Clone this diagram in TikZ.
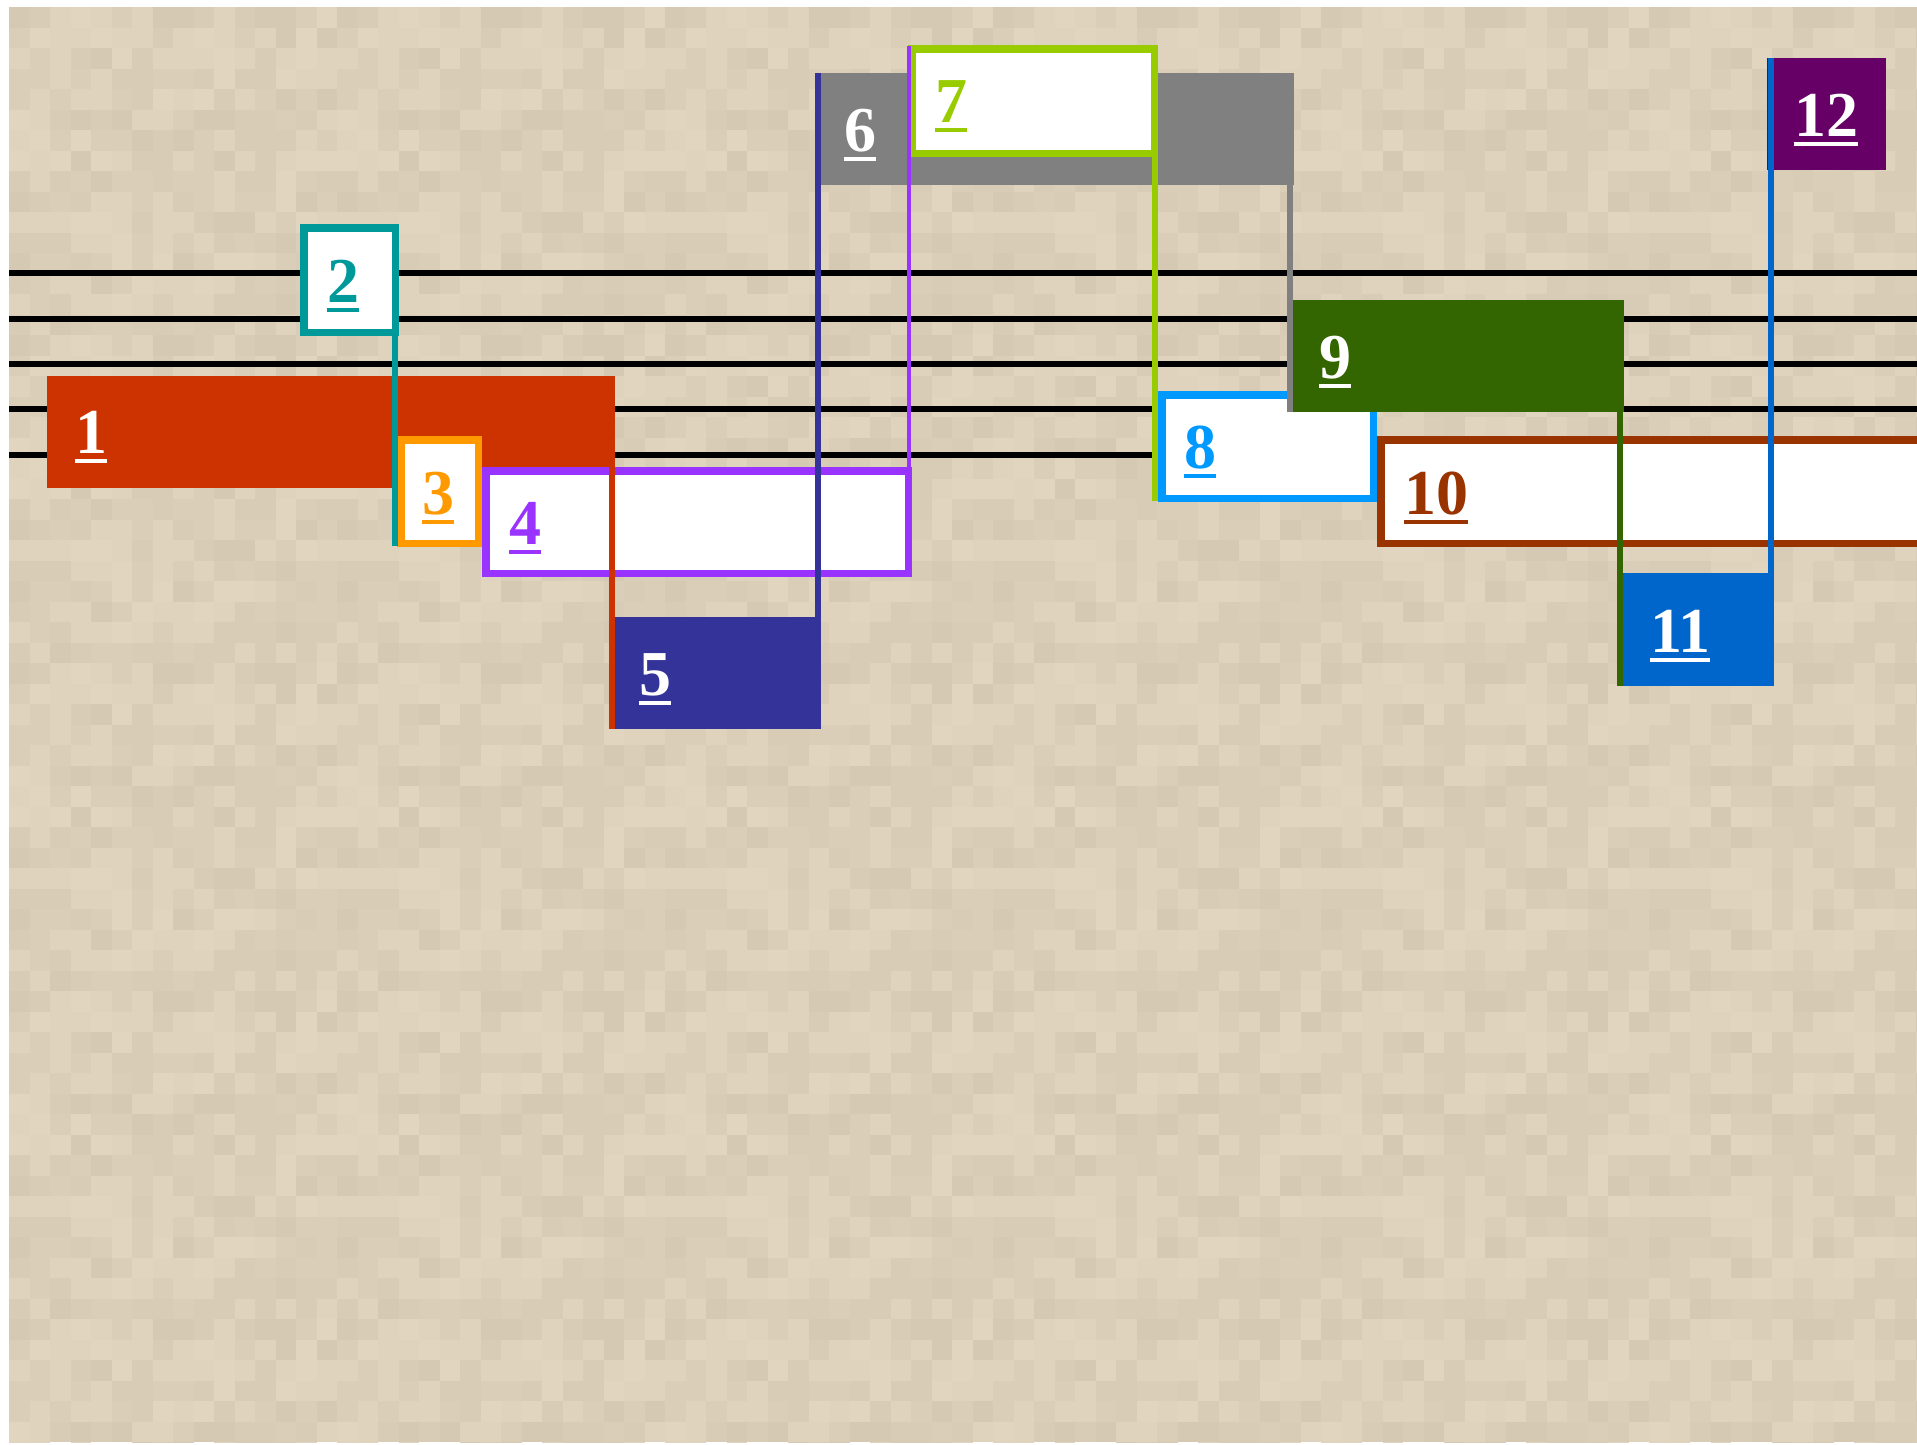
\documentclass[tikz,border=0pt]{standalone}
\usepackage{fontspec}
\setmainfont{Liberation Serif}
\usetikzlibrary{calc}
\definecolor{bgbase}{HTML}{DBCEB8}
\definecolor{bgdark}{HTML}{D6C9B3}
\definecolor{bgmid}{HTML}{D9CCB6}
\definecolor{bglight}{HTML}{DFD3BD}
\definecolor{bglighter}{HTML}{E1D5C0}
\definecolor{cRed}{HTML}{CC3300}
\definecolor{cTeal}{HTML}{009999}
\definecolor{cOrange}{HTML}{FF9900}
\definecolor{cPurple}{HTML}{9933FF}
\definecolor{cNavy}{HTML}{333399}
\definecolor{cGrey}{HTML}{808080}
\definecolor{cGreen}{HTML}{99CC00}
\definecolor{cBlue}{HTML}{0099FF}
\definecolor{cDkGreen}{HTML}{336600}
\definecolor{cBrown}{HTML}{993300}
\definecolor{cMidBlue}{HTML}{0066CC}
\definecolor{cPlum}{HTML}{660066}
\newcommand\ulnum[1]{\setbox0\hbox{#1}\rlap{\rule[-3.75pt]{\wd0}{1.5pt}}\box0}
\newcommand\solidbox[6]{\node[solidrect, fill=#2, minimum width={(#5-#3)*0.375pt}, minimum height={(#6-#4)*0.375pt}] (#1) at ({(#3+#5)/2},{(#4+#6)/2}) {};}
\newcommand\hollowbox[6]{\node[hollowrect, draw=#2, minimum width={(#5-#3-7.5)*0.375pt}, minimum height={(#6-#4-7.5)*0.375pt}] (#1) at ({(#3+#5)/2},{(#4+#6)/2}) {};}
\tikzset{
  solidrect/.style={rectangle, draw=none, inner sep=0pt, outer sep=0pt},
  hollowrect/.style={rectangle, fill=white, line width=2.8125pt, inner sep=0pt, outer sep=0pt},
  staffline/.style={black, line width=2.5pt},
  stem/.style={line width=2.2pt},
  lbl/.style={anchor=base west, inner sep=0pt, outer sep=0pt, font=\fontsize{24pt}{28pt}\selectfont\bfseries},
}
\begin{document}
\begin{tikzpicture}[x=0.375pt,y=-0.375pt]
\useasboundingbox (0,0) rectangle (1917,1444);
\clip (0,0) rectangle (1917,1444);
\fill[white] (0,0) rectangle (1917,1444);
\fill[bgbase] (9,7) rectangle (1917,1442);
\begin{scope}
\clip (9,7) rectangle (1917,1442);
\foreach \i in {0,...,94} {
  \foreach \j in {0,...,70} {
    \pgfmathtruncatemacro\a{mod(\i,16)}
    \pgfmathtruncatemacro\b{mod(\j,16)}
    \pgfmathtruncatemacro\k{mod(int(abs(sin(\a*127.1+\b*311.7))*9000),8)}
    \ifcase\k
      \fill[bgdark] ({9+\i*20.5},{7+\j*20.5}) rectangle +(20.6,20.6);\or
      \fill[bgmid] ({9+\i*20.5},{7+\j*20.5}) rectangle +(20.6,20.6);\or
      \fill[bgmid] ({9+\i*20.5},{7+\j*20.5}) rectangle +(20.6,20.6);\or
      \fill[bglight] ({9+\i*20.5},{7+\j*20.5}) rectangle +(20.6,20.6);\or
      \fill[bglighter] ({9+\i*20.5},{7+\j*20.5}) rectangle +(20.6,20.6);\or
      \fill[bglight] ({9+\i*20.5},{7+\j*20.5}) rectangle +(20.6,20.6);\else
    \fi
  }
}
\end{scope}
% staff
\foreach \y in {273,319,364,409,455} \draw[staffline] (9,\y) -- (1917,\y);
% boxes
\solidbox{b1}{cRed}{47}{376}{615}{488}
\hollowbox{b2}{cTeal}{300}{224}{399}{336}
\hollowbox{b3}{cOrange}{397}{436}{482}{547}
\hollowbox{b4}{cPurple}{482}{467}{912}{577}
\solidbox{b5}{cNavy}{614}{617}{821}{729}
\solidbox{b6}{cGrey}{815}{73}{1294}{185}
\hollowbox{b7}{cGreen}{908}{45}{1158}{157}
\hollowbox{b8}{cBlue}{1158}{391}{1377}{502}
\solidbox{b9}{cDkGreen}{1293}{300}{1624}{412}
\hollowbox{b10}{cBrown}{1377}{436}{1945}{547}
\solidbox{b11}{cMidBlue}{1622}{573}{1774}{686}
\solidbox{b12}{cPlum}{1767}{58}{1886}{170}
% stems
\draw[stem, cTeal, line cap=rect] (b2.north east) -- (b2.north east |- b3.south);
\draw[stem, cRed] ([xshift=-1.125pt]b1.north east) -- ([xshift=-1.125pt]b1.north east |- b5.south);
\draw[stem, cNavy] ([xshift=-1.125pt]b5.south east) -- ([xshift=-1.125pt]b5.south east |- b6.north);
\draw[stem, cPurple, line width=1.8pt, line cap=rect] ([xshift=0.3pt]b4.north east) -- ([xshift=0.3pt]b4.north east |- b7.north);
\draw[stem, cGrey, line width=2pt] ([xshift=-1.5pt]b6.north east) -- ([xshift=-1.5pt]b6.north east |- b9.south);
\draw[stem, cGreen, line cap=rect] ([xshift=0.3pt]b7.north east) -- ([xshift=0.3pt]b7.north east |- b8.south);
\draw[stem, cDkGreen, line width=2pt] ([xshift=-1.5pt]b9.south east) -- ([xshift=-1.5pt]b9.south east |- b11.south);
\draw[stem, cMidBlue] ([xshift=-1.125pt]b11.south east) -- ([xshift=-1.125pt]b11.south east |- b12.north);
% labels
\node[lbl, text=white] (t1) at (75,453) {\ulnum{1}};
\node[lbl, text=cTeal] (t2) at (327,302) {\ulnum{2}};
\node[lbl, text=cOrange] (t3) at (422,514) {\ulnum{3}};
\node[lbl, text=cPurple] (t4) at (509,544) {\ulnum{4}};
\node[lbl, text=white] (t5) at (639,695) {\ulnum{5}};
\node[lbl, text=white] (t6) at (844,151) {\ulnum{6}};
\node[lbl, text=cGreen] (t7) at (935,122) {\ulnum{7}};
\node[lbl, text=cBlue] (t8) at (1184,468) {\ulnum{8}};
\node[lbl, text=white] (t9) at (1319,378) {\ulnum{9}};
\node[lbl, text=cBrown] (t10) at (1404,514) {\ulnum{10}};
\node[lbl, text=white] (t11) at (1650,652) {\ulnum{11}};
\node[lbl, text=white] (t12) at (1794,136) {\ulnum{12}};
\end{tikzpicture}
\end{document}
